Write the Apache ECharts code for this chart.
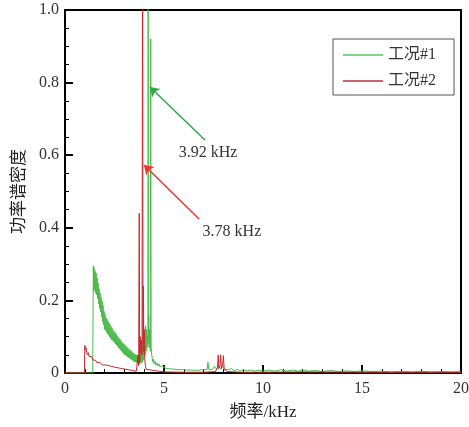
<!DOCTYPE html>
<html><head><meta charset="utf-8">
<script src="https://cdn.jsdelivr.net/npm/echarts@6/dist/echarts.min.js"></script>
<style>html,body{margin:0;padding:0;background:#fff}#c{width:469px;height:427px}</style>
</head><body><div id="c"></div>
<script>
const seriesNames = ['工况#1', '工况#2'];
const xTicks = [0, 5, 10, 15, 20];
const yTicks = [0, 0.2, 0.4, 0.6, 0.8, 1.0];
const annotations = [
  {text: '3.92 kHz', from: [7.07, 0.642], to: [4.29, 0.788], label: [7.22, 0.606]},
  {text: '3.78 kHz', from: [6.77, 0.424], to: [3.99, 0.573], label: [8.43, 0.388]}
];
// 工况#1 (green): [kHz, PSD]
const case1 = [
  [0,0],[1.40,0],[1.42,0],[1.43,0.295],[1.45,0.225],[1.475,0.29],[1.50,0.228],[1.525,0.28],[1.55,0.22],[1.575,0.275],
  [1.60,0.215],[1.625,0.262],[1.65,0.205],[1.675,0.248],[1.70,0.19],[1.725,0.232],[1.75,0.178],[1.775,0.22],[1.80,0.168],
  [1.825,0.208],[1.85,0.155],[1.875,0.198],[1.90,0.142],[1.925,0.186],[1.95,0.132],[1.975,0.17],[2.00,0.12],[2.025,0.162],
  [2.05,0.118],[2.075,0.152],[2.10,0.112],[2.125,0.148],[2.15,0.108],[2.175,0.142],[2.20,0.104],[2.225,0.138],[2.25,0.1],
  [2.275,0.134],[2.30,0.096],[2.325,0.128],[2.35,0.092],[2.375,0.124],[2.40,0.09],[2.425,0.118],[2.45,0.087],[2.475,0.114],
  [2.50,0.084],[2.525,0.112],[2.55,0.08],[2.575,0.108],[2.60,0.077],[2.625,0.103],[2.65,0.074],[2.675,0.1],[2.70,0.07],
  [2.725,0.095],[2.75,0.067],[2.775,0.093],[2.80,0.064],[2.825,0.09],[2.85,0.06],[2.875,0.085],[2.90,0.057],[2.925,0.082],
  [2.95,0.054],[2.975,0.08],[3.00,0.051],[3.025,0.077],[3.05,0.049],[3.075,0.074],[3.10,0.047],[3.125,0.071],[3.15,0.045],
  [3.175,0.069],[3.20,0.043],[3.225,0.066],[3.25,0.041],[3.275,0.064],[3.30,0.039],[3.325,0.062],[3.35,0.037],[3.375,0.059],
  [3.40,0.035],[3.425,0.056],[3.45,0.033],[3.475,0.054],[3.50,0.031],[3.525,0.052],[3.55,0.03],[3.575,0.051],[3.60,0.029],
  [3.625,0.05],[3.65,0.028],[3.675,0.049],[3.70,0.027],[3.725,0.048],[3.75,0.026],[3.775,0.05],[3.80,0.026],[3.825,0.056],
  [3.85,0.028],[3.875,0.064],[3.90,0.03],[3.925,0.078],[3.95,0.035],[3.975,0.09],[4.00,0.04],[4.025,0.11],[4.05,0.05],
  [4.075,0.13],[4.10,0.06],[4.125,0.12],[4.15,0.07],[4.175,0.1],[4.19,0.08],[4.2,1.3],[4.21,0.09],[4.23,0.16],[4.25,0.07],
  [4.28,0.12],[4.31,0.06],[4.33,0.92],[4.35,0.07],[4.38,0.05],[4.41,0.04],[4.44,0.03],[4.47,0.038],[4.5,0.025],
  [4.55,0.032],[4.6,0.022],[4.65,0.028],[4.7,0.019],[4.75,0.025],[4.8,0.017],[4.85,0.022],[4.9,0.015],[4.95,0.02],
  [5.0,0.014],[5.1,0.019],[5.2,0.012],[5.3,0.016],[5.4,0.011],[5.5,0.015],[5.6,0.01],[5.7,0.014],[5.8,0.009],
  [5.9,0.013],[6.0,0.009],[6.1,0.012],[6.2,0.008],[6.3,0.011],[6.4,0.008],[6.5,0.011],[6.6,0.007],[6.7,0.01],
  [6.8,0.008],[6.9,0.012],[7.0,0.009],[7.1,0.014],[7.18,0.01],[7.22,0.03],[7.26,0.01],[7.35,0.015],[7.45,0.01],
  [7.55,0.018],[7.65,0.011],[7.75,0.02],[7.85,0.012],[7.95,0.019],[8.05,0.011],[8.15,0.016],[8.25,0.009],[8.4,0.012],
  [8.55,0.007],[8.7,0.01],[8.85,0.006],[9.0,0.009],[9.2,0.006],[9.4,0.008],[9.6,0.005],[9.8,0.008],[10.0,0.005],
  [10.3,0.008],[10.6,0.005],[10.9,0.009],[11.2,0.005],[11.5,0.008],[11.8,0.005],[12.0,0.009],[12.3,0.005],[12.6,0.007],
  [13.0,0.004],[13.4,0.007],[13.8,0.004],[14.2,0.006],[14.6,0.004],[15.0,0.006],[15.5,0.004],[16.0,0.005],[16.5,0.003],
  [17.0,0.005],[17.5,0.003],[18.0,0.005],[18.5,0.003],[19.0,0.004],[19.5,0.003],[20.0,0.004]
];
// 工况#2 (red): [kHz, PSD]
const case2 = [
  [0,0],[0.98,0],[1.0,0.076],[1.03,0.064],[1.06,0.07],[1.09,0.057],[1.12,0.062],[1.15,0.05],[1.18,0.056],[1.21,0.046],
  [1.25,0.051],[1.3,0.041],[1.35,0.045],[1.4,0.036],[1.45,0.04],[1.5,0.032],[1.55,0.035],[1.6,0.029],[1.65,0.032],
  [1.7,0.026],[1.75,0.029],[1.8,0.024],[1.85,0.027],[1.9,0.022],[1.95,0.024],[2.0,0.02],[2.1,0.022],[2.2,0.018],
  [2.3,0.019],[2.4,0.015],[2.5,0.016],[2.6,0.013],[2.7,0.014],[2.8,0.011],[2.9,0.012],[3.0,0.009],[3.2,0.009],
  [3.4,0.007],[3.6,0.005],[3.68,0.005],[3.7,0.05],[3.72,0.02],[3.75,0.44],[3.77,0.03],[3.8,0.1],[3.83,0.055],
  [3.86,0.09],[3.89,0.05],[3.92,1.3],[3.94,0.08],[3.96,0.24],[3.98,0.06],[4.0,0.12],[4.03,0.04],[4.06,0.02],
  [4.1,0.01],[4.2,0.005],[5.0,0.003],[6.0,0.002],[7.0,0.002],[7.6,0.004],[7.7,0.015],[7.74,0.05],[7.77,0.012],
  [7.83,0.02],[7.86,0.05],[7.9,0.012],[7.96,0.02],[8.0,0.048],[8.04,0.01],[8.2,0.004],[9.0,0.002],[12.0,0.003],
  [12.1,0.002],[16.0,0.002],[20.0,0.002]
];

const font = '"Liberation Serif","Noto Sans CJK SC",serif';
const chart = echarts.init(document.getElementById('c'));
chart.setOption({
  animation: false,
  backgroundColor: '#fff',
  grid: {left: 65, right: 8, top: 10, bottom: 54, show: true, borderColor: '#000', borderWidth: 2,
         containLabel: false, outerBoundsMode: 'none'},
  legend: {
    left: 333, top: 39, orient: 'vertical',
    data: seriesNames.map(n => ({name: n, icon: 'rect'})),
    borderColor: '#555', borderWidth: 1, padding: [8, 18, 6, 10],
    itemWidth: 40, itemHeight: 1.5, itemGap: 10,
    textStyle: {fontFamily: font, fontSize: 16, color: '#333', lineHeight: 16}
  },
  xAxis: {
    type: 'value', min: xTicks[0], max: xTicks[xTicks.length - 1], interval: 5,
    name: '频率/kHz', nameLocation: 'middle', nameGap: 31,
    nameTextStyle: {fontFamily: font, fontSize: 17, color: '#222'},
    axisLine: {lineStyle: {color: '#000', width: 2}},
    axisTick: {inside: true, length: 8, lineStyle: {color: '#000', width: 2}},
    minorTick: {show: true, splitNumber: 5, length: 4, lineStyle: {color: '#000', width: 1}},
    splitLine: {show: false},
    axisLabel: {fontFamily: font, fontSize: 16, color: '#333', margin: 8}
  },
  yAxis: {
    type: 'value', min: yTicks[0], max: yTicks[yTicks.length - 1], interval: 0.2,
    name: '功率谱密度', nameLocation: 'middle', nameGap: 36, nameRotate: 90,
    nameTextStyle: {fontFamily: font, fontSize: 17, color: '#222'},
    axisLine: {lineStyle: {color: '#000', width: 2}},
    axisTick: {inside: true, length: 8, lineStyle: {color: '#000', width: 2}},
    minorTick: {show: true, splitNumber: 4, length: 4, lineStyle: {color: '#000', width: 1}},
    splitLine: {show: false},
    axisLabel: {fontFamily: font, fontSize: 16, color: '#333', margin: 6,
      formatter: v => v === 0 ? '0' : v.toFixed(1)}
  },
  series: [
    {
      name: seriesNames[0], type: 'line', data: case1, symbol: 'none', clip: true,
      lineStyle: {color: '#4cbb4c', width: 1}, itemStyle: {color: '#5cc45c'},
      markLine: {
        silent: true, symbol: ['none', 'arrow'], symbolSize: 9,
        lineStyle: {color: '#2ea84a', width: 1.5, type: 'solid'}, label: {show: false},
        data: [[{coord: annotations[0].from}, {coord: annotations[0].to}]]
      },
      markPoint: {
        symbol: 'circle', symbolSize: 0,
        label: {show: true, formatter: annotations[0].text, fontFamily: font, fontSize: 16, color: '#333'},
        data: [{coord: annotations[0].label}]
      }
    },
    {
      name: seriesNames[1], type: 'line', data: case2, symbol: 'none', clip: true,
      lineStyle: {color: '#c8262e', width: 1}, itemStyle: {color: '#b83038'},
      markLine: {
        silent: true, symbol: ['none', 'arrow'], symbolSize: 9,
        lineStyle: {color: '#ee3333', width: 1.5, type: 'solid'}, label: {show: false},
        data: [[{coord: annotations[1].from}, {coord: annotations[1].to}]]
      },
      markPoint: {
        symbol: 'circle', symbolSize: 0,
        label: {show: true, formatter: annotations[1].text, fontFamily: font, fontSize: 16, color: '#333'},
        data: [{coord: annotations[1].label}]
      }
    }
  ]
});
</script></body></html>
